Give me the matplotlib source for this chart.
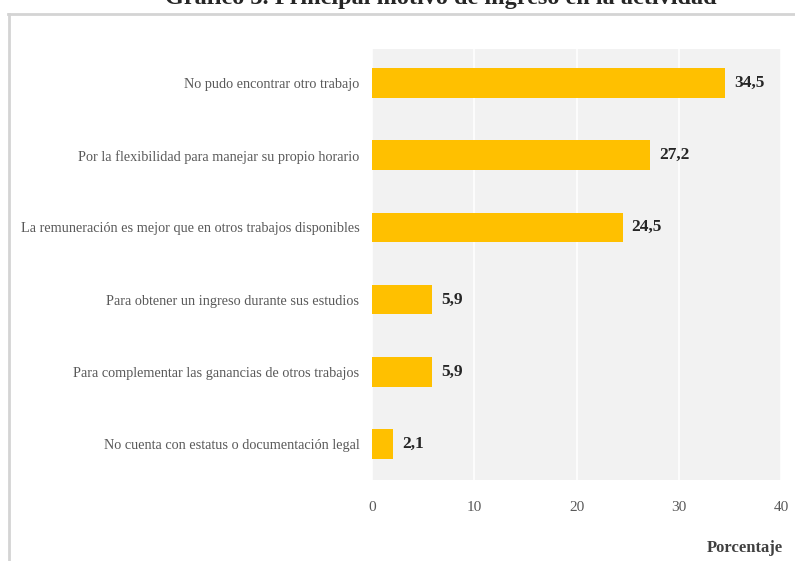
import matplotlib.pyplot as plt
from matplotlib.lines import Line2D

# Data
categorias = [
    "No pudo encontrar otro trabajo",
    "Por la flexibilidad para manejar su propio horario",
    "La remuneración es mejor que en otros trabajos disponibles",
    "Para obtener un ingreso durante sus estudios",
    "Para complementar las ganancias de otros trabajos",
    "No cuenta con estatus o documentación legal",
]
porcentajes = [34.5, 27.2, 24.5, 5.9, 5.9, 2.1]
x_ticks = [0, 10, 20, 30, 40]
titulo = "Gráfico 3. Principal motivo de ingreso en la actividad"

plt.rcParams['font.family'] = ['Liberation Serif', 'DejaVu Serif']

fig = plt.figure(figsize=(7.95, 5.61), dpi=100)
W, H = 795, 561
ax = fig.add_axes([372 / W, 1 - 480 / H, 409 / W, 431 / H])
ax.set_facecolor('#f2f2f2')

pos = list(range(len(categorias)))
ax.barh(pos, porcentajes, height=0.41, color='#ffc000', zorder=3)

# Value labels next to each bar
for y, v in zip(pos, porcentajes):
    ax.text(v + 0.9, y, f"{v:.1f}".replace('.', ','), va='center', ha='left',
            fontsize=12.5, fontweight='bold', color='#262626', zorder=4)

ax.set_xlim(0, 40)
ax.set_ylim(5.5, -0.47)
ax.set_xticks(x_ticks)
ax.set_yticks(pos)
ax.set_yticklabels(categorias)
ax.xaxis.grid(True, color='white', linewidth=1.2, zorder=1)
ax.set_axisbelow(True)
ax.tick_params(axis='y', length=0, pad=9, labelsize=10.3, labelcolor='#595959')
ax.tick_params(axis='x', length=0, pad=15, labelsize=11, labelcolor='#595959')
for s in ax.spines.values():
    s.set_visible(False)

fig.text(783 / W, 1 - 548 / H, "Porcentaje", ha='right', va='center',
         fontsize=12, fontweight='bold', color='#404040')

# Title cut off at the top of the image, as in the reference
fig.text(441 / W, 1 - 4 / H, titulo, ha='center', va='baseline',
         fontsize=17.5, fontweight='bold', color='#262626')

# Frame lines of the surrounding box
fig.add_artist(Line2D([9 / W, 9 / W], [0, 1 - 14 / H], color='#d4d4d4', linewidth=2))
fig.add_artist(Line2D([8 / W, 1], [1 - 14 / H, 1 - 14 / H], color='#d4d4d4', linewidth=2))

fig.savefig('out.png', dpi=100)
